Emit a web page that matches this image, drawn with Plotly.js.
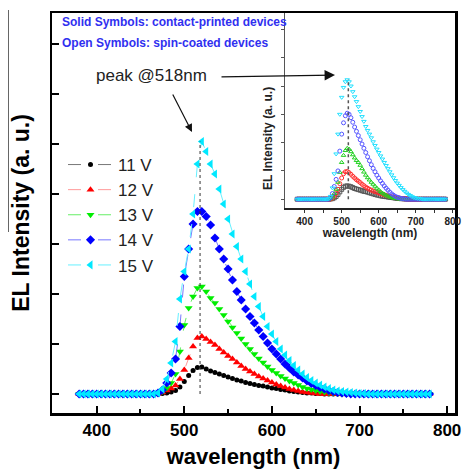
<!DOCTYPE html>
<html>
<head>
<meta charset="utf-8">
<script src="https://cdn.plot.ly/plotly-3.0.1.min.js"></script>
<style>html,body{margin:0;padding:0;background:#fff;}#chart{width:462px;height:470px;}</style>
</head>
<body>
<div id="chart"></div>
<script>
// wavelength grid (nm)
const wavelength = [
380,385,390,395,400,405,410,415,420,425,
430,435,440,445,450,455,460,465,470,475,
480,485,490,495,500,505,510,515,520,525,
530,535,540,545,550,555,560,565,570,575,
580,585,590,595,600,605,610,615,620,625,
630,635,640,645,650,655,660,665,670,675,
680,685,690,695,700,705,710,715,720,725,
730,735,740,745,750,755,760,765,770,775,
780];

const seriesNames = ['11 V','12 V','13 V','14 V','15 V'];

// Main plot: contact-printed devices (solid symbols), arbitrary units
const cp11 = [
0,0,0,0,0,0,0,0,0,0,
0,0,0,0,0,0,0,0,0,0.01,
0.02,0.04,0.07,0.14,0.25,0.37,0.47,0.53,0.54,0.5,
0.46,0.43,0.4,0.37,0.34,0.31,0.28,0.26,0.23,0.21,
0.19,0.17,0.16,0.14,0.12,0.11,0.09,0.08,0.06,0.05,
0.04,0.03,0.02,0.02,0.01,0.01,0,0,0,0,
0,0,0,0,0,0,0,0,0,0,
0,0,0,0,0,0,0,0,0,0,
0];
const cp12 = [
0,0,0,0,0,0,0,0,0,0,
0,0,0,0,0,0,0,0,0.01,0.03,
0.07,0.11,0.17,0.3,0.48,0.72,0.95,1.12,1.15,1.1,
1.04,0.98,0.9,0.83,0.76,0.7,0.63,0.56,0.5,0.45,
0.4,0.35,0.31,0.27,0.23,0.19,0.16,0.13,0.1,0.08,
0.06,0.04,0.03,0.02,0.01,0,0,0,0,0,
0,0,0,0,0,0,0,0,0,0,
0,0,0,0,0,0,0,0,0,0,
0];
const cp13 = [
0,0,0,0,0,0,0,0,0,0,
0,0,0,0,0,0,0,0,0.01,0.05,
0.12,0.22,0.4,0.85,1.38,1.72,1.95,2.12,2.15,2.05,
1.92,1.82,1.7,1.58,1.45,1.33,1.22,1.11,1.0,0.9,
0.8,0.71,0.63,0.55,0.48,0.42,0.36,0.31,0.26,0.22,
0.18,0.14,0.11,0.09,0.07,0.05,0.04,0.03,0.02,0.01,
0,0,0,0,0,0,0,0,0,0,
0,0,0,0,0,0,0,0,0,0,
0];
const cp14 = [
0,0,0,0,0,0,0,0,0,0,
0,0,0,0,0,0,0,0,0.02,0.08,
0.22,0.42,0.7,1.35,2.35,2.9,3.4,3.65,3.65,3.55,
3.38,3.12,2.9,2.7,2.5,2.28,2.05,1.88,1.7,1.55,
1.42,1.28,1.15,1.02,0.9,0.8,0.7,0.6,0.52,0.44,
0.38,0.32,0.26,0.21,0.17,0.13,0.1,0.07,0.05,0.03,
0.02,0.01,0,0,0,0,0,0,0,0,
0,0,0,0,0,0,0,0,0,0,
0];
const cp15 = [
0,0,0,0,0,0,0,0,0,0,
0,0,0,0,0,0,0,0,0.02,0.1,
0.3,0.62,1.05,1.9,2.45,2.9,3.6,4.6,5.05,4.85,
4.6,4.4,4.1,3.8,3.5,3.2,2.95,2.7,2.45,2.2,
1.95,1.75,1.55,1.35,1.2,1.05,0.9,0.78,0.67,0.57,
0.48,0.4,0.33,0.27,0.22,0.18,0.14,0.11,0.08,0.06,
0.05,0.04,0.03,0.02,0.01,0.01,0,0,0,0,
0,0,0,0,0,0,0,0,0,0,
0];

// Inset: spin-coated devices (open symbols), arbitrary units
const sc11 = [
0,0,0,0,0,0,0,0,0,0,
0,0,0,0,0,0,0,0,0.01,0.02,
0.05,0.1,0.17,0.26,0.35,0.42,0.46,0.47,0.46,0.44,
0.41,0.38,0.36,0.34,0.32,0.3,0.28,0.27,0.25,0.23,
0.21,0.19,0.17,0.15,0.14,0.12,0.11,0.1,0.09,0.08,
0.07,0.06,0.05,0.04,0.03,0.03,0.02,0.02,0.01,0.01,
0,0,0,0,0,0,0,0,0,0,
0,0,0,0,0,0,0,0,0,0,
0];
const sc12 = [
0,0,0,0,0,0,0,0,0,0,
0,0,0,0,0,0,0,0,0.01,0.04,
0.1,0.2,0.35,0.55,0.75,0.9,0.97,0.98,0.94,0.88,
0.81,0.75,0.69,0.64,0.59,0.53,0.48,0.43,0.39,0.35,
0.32,0.29,0.27,0.25,0.22,0.2,0.18,0.16,0.14,0.12,
0.1,0.09,0.07,0.06,0.05,0.04,0.03,0.02,0.01,0.01,
0,0,0,0,0,0,0,0,0,0,
0,0,0,0,0,0,0,0,0,0,
0];
const sc13 = [
0,0,0,0,0,0,0,0,0,0,
0,0,0,0,0,0,0,0,0.02,0.08,
0.2,0.35,0.6,0.95,1.3,1.55,1.72,1.8,1.77,1.68,
1.57,1.46,1.37,1.3,1.2,1.08,0.96,0.85,0.76,0.68,
0.6,0.53,0.46,0.39,0.33,0.27,0.22,0.18,0.14,0.11,
0.08,0.06,0.04,0.03,0.02,0.01,0,0,0,0,
0,0,0,0,0,0,0,0,0,0,
0,0,0,0,0,0,0,0,0,0,
0];
const sc14 = [
0,0,0,0,0,0,0,0,0,0,
0,0,0,0,0,0,0,0,0.05,0.2,
0.45,0.7,1.0,1.7,2.3,2.7,2.95,3.04,3.0,2.88,
2.72,2.55,2.4,2.25,2.1,1.95,1.8,1.65,1.5,1.36,
1.22,1.09,0.97,0.85,0.75,0.65,0.56,0.47,0.39,0.32,
0.25,0.19,0.14,0.1,0.07,0.05,0.03,0.02,0.01,0,
0,0,0,0,0,0,0,0,0,0,
0,0,0,0,0,0,0,0,0,0,
0];
const sc15 = [
0,0,0,0,0,0,0,0,0,0,
0,0,0,0,0,0,0,0.02,0.1,0.4,
0.9,1.6,2.3,3.0,3.6,3.95,4.15,4.22,4.15,4.0,
3.8,3.62,3.45,3.27,3.1,2.92,2.75,2.57,2.43,2.3,
2.17,2.03,1.9,1.77,1.65,1.53,1.42,1.3,1.19,1.08,
0.97,0.86,0.76,0.66,0.57,0.49,0.41,0.34,0.28,0.22,
0.17,0.13,0.09,0.06,0.04,0.03,0.02,0.01,0,0,
0,0,0,0,0,0,0,0,0,0,
0];

const peakWavelength = [518];
const peakMain = [5.05];
const peakInset = [4.25];

const mainSeries = [cp11, cp12, cp13, cp14, cp15];
const insetSeries = [sc11, sc12, sc13, sc14, sc15];
const markerColors = ['#000000','#ff0000','#00ee00','#0000ff','#00e8ff'];
const lineColors = ['#777777','#ff9999','#66ee66','#7777ff','#66f0ff'];
const solidSymbols = ['circle','triangle-up','triangle-down','diamond','triangle-left'];
const solidSizes = [5,7,7,7,8];
const insetColors = ['#555555','#ff3030','#20d020','#5555ff','#20e0ff'];
const openSymbols = ['square-open','circle-open','triangle-up-open','circle-open','triangle-down-open'];

const FONT = 'Liberation Sans, Arial, sans-serif';
const traces = [];
mainSeries.forEach((ys, i) => {
  traces.push({
    x: wavelength, y: ys, name: seriesNames[i], type: 'scatter', mode: 'lines+markers',
    xaxis: 'x', yaxis: 'y', legendgroup: 'g' + i,
    line: {color: lineColors[i], width: 1, dash: '13px,17px'},
    marker: {symbol: solidSymbols[i], size: solidSizes[i], color: markerColors[i]}
  });
});
insetSeries.forEach((ys, i) => {
  traces.push({
    x: wavelength, y: ys, name: seriesNames[i] + ' (spin-coated)', type: 'scatter', mode: 'markers',
    xaxis: 'x2', yaxis: 'y2', showlegend: false,
    marker: {symbol: openSymbols[i], size: 4, color: insetColors[i], line: {width: 1}}
  });
});

const L = 52, R = 455, T = 13, B = 413;
const px = v => (v - L) / (R - L);
const py = v => (B - v) / (B - T);

const layout = {
  width: 462, height: 470,
  margin: {l: L, r: 462 - R, t: T, b: 470 - B},
  paper_bgcolor: '#ffffff', plot_bgcolor: '#ffffff',
  font: {family: FONT, color: '#000'},
  showlegend: true,
  legend: {x: px(63), y: py(147), xanchor: 'left', yanchor: 'top', bgcolor: 'rgba(0,0,0,0)',
           font: {family: FONT, size: 17, color: '#222'}, traceorder: 'grouped', tracegroupgap: 0, itemwidth: 45},
  xaxis: {
    domain: [0, 1], range: [349, 809], tickvals: [400,500,600,700,800],
    ticks: 'inside', ticklen: 7, tickwidth: 2, tickcolor: '#000',
    minor: {tickvals: [450,550,650,750], ticks: 'inside', ticklen: 4, tickwidth: 2, tickcolor: '#000'},
    showline: true, linewidth: 2.5, linecolor: '#000', mirror: true,
    showgrid: false, zeroline: false,
    tickfont: {family: FONT, size: 17, weight: 'bold'},
    title: {text: 'wavelength (nm)', font: {family: FONT, size: 22, weight: 'bold'}, standoff: 10}
  },
  yaxis: {
    domain: [0, 1], range: [-0.38, 7.62], tickvals: [0,1,2,3,4,5,6,7],
    ticks: 'inside', ticklen: 7, tickwidth: 2, tickcolor: '#000', showticklabels: false,
    showline: true, linewidth: 2.5, linecolor: '#000', mirror: true,
    showgrid: false, zeroline: false,
    title: {text: 'EL Intensity (a. u.)', font: {family: FONT, size: 23, weight: 'bold'}, standoff: 14}
  },
  xaxis2: {
    domain: [px(285), 1], anchor: 'y2', range: [347, 806], tickvals: [400,500,600,700,800],
    ticks: 'outside', ticklen: 3, tickwidth: 1, tickcolor: '#333',
    minor: {tickvals: [450,550,650,750], ticks: 'outside', ticklen: 3, tickwidth: 1, tickcolor: '#333'},
    showline: true, linewidth: 1.5, linecolor: '#222', showgrid: false, zeroline: false,
    tickfont: {family: FONT, size: 10, weight: 'bold', color: '#222'},
    title: {text: 'wavelength (nm)', font: {family: FONT, size: 12, weight: 'bold', color: '#222'}, standoff: 2}
  },
  yaxis2: {
    domain: [py(208), 1], anchor: 'x2', range: [-0.31, 6.58], tickvals: [0,1,2,3,4,5,6],
    ticks: 'outside', ticklen: 3, tickwidth: 1, tickcolor: '#555', showticklabels: false,
    showline: true, linewidth: 1, linecolor: '#555', showgrid: false, zeroline: false
  },
  shapes: [
    {type: 'line', xref: 'x', yref: 'y', x0: peakWavelength[0], x1: peakWavelength[0], y0: 0, y1: peakMain[0],
     line: {color: '#333', width: 1, dash: 'dot'}},
    {type: 'line', xref: 'x2', yref: 'y2', x0: peakWavelength[0], x1: peakWavelength[0], y0: 0, y1: peakInset[0],
     line: {color: '#555', width: 1.5, dash: 'dot'}},
    {type: 'line', xref: 'paper', yref: 'paper', x0: px(8.5), x1: px(8.5), y0: py(10), y1: py(232),
     line: {color: '#666', width: 1}}
  ],
  annotations: [
    {xref: 'paper', yref: 'paper', x: px(60), y: py(22), xanchor: 'left', yanchor: 'middle', showarrow: false,
     text: 'Solid Symbols: contact-printed devices', font: {family: FONT, size: 12, weight: 'bold', color: '#3030f0'}},
    {xref: 'paper', yref: 'paper', x: px(60), y: py(43), xanchor: 'left', yanchor: 'middle', showarrow: false,
     text: 'Open Symbols: spin-coated devices', font: {family: FONT, size: 12, weight: 'bold', color: '#3030f0'}},
    {xref: 'paper', yref: 'paper', x: px(151), y: py(76), xanchor: 'center', yanchor: 'middle', showarrow: false,
     text: 'peak @518nm', font: {family: FONT, size: 17, color: '#222'}},
    {xref: 'paper', yref: 'paper', x: px(192), y: py(132), ax: -20, ay: -39, text: '', showarrow: true,
     arrowhead: 2, arrowsize: 1.3, arrowwidth: 1.2, arrowcolor: '#111'},
    {xref: 'paper', yref: 'paper', x: px(335), y: py(75), ax: -115, ay: 2, text: '', showarrow: true,
     arrowhead: 2, arrowsize: 1.6, arrowwidth: 1.3, arrowcolor: '#111'},
    {xref: 'paper', yref: 'paper', x: px(268), y: py(139), xanchor: 'center', yanchor: 'middle', showarrow: false,
     textangle: -90, text: 'EL Intensity (a. u.)', font: {family: FONT, size: 12, weight: 'bold', color: '#222'}}
  ]
};

Plotly.newPlot('chart', traces, layout, {displayModeBar: false, staticPlot: true});
</script>
</body>
</html>
